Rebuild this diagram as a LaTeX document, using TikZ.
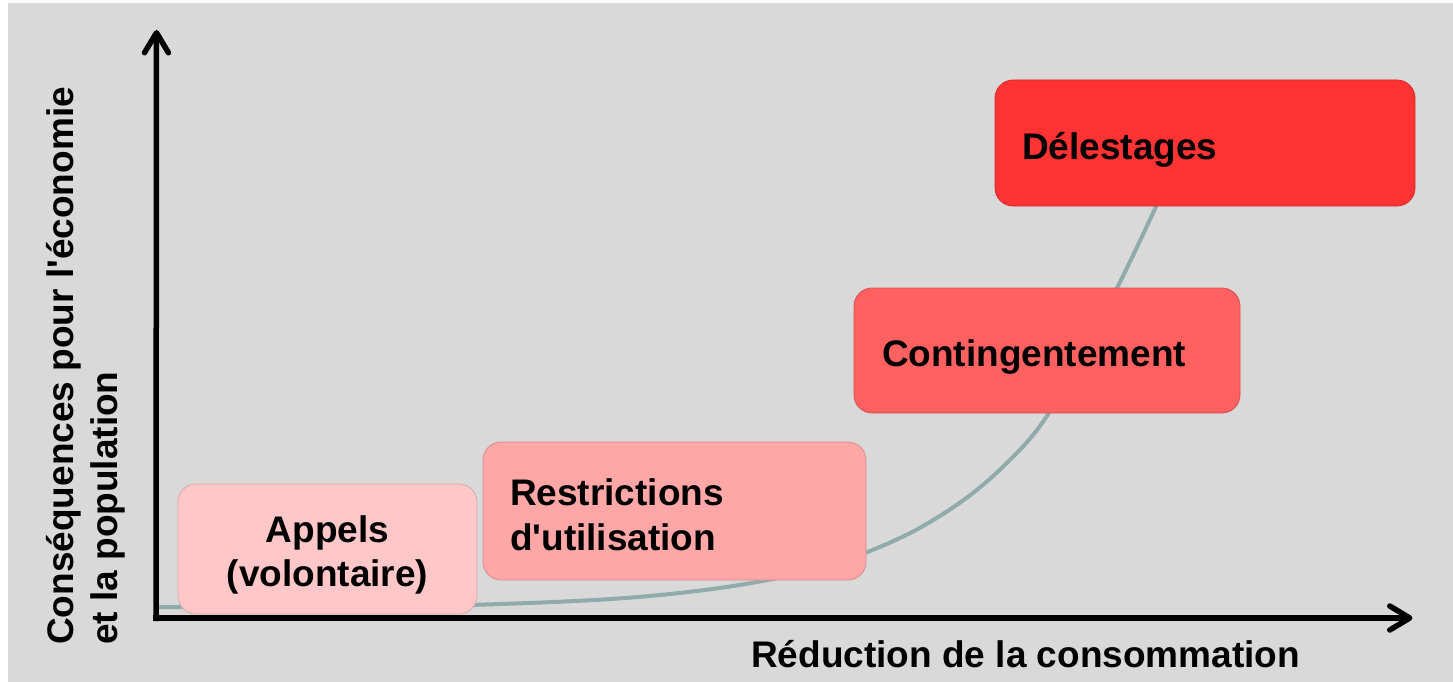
\documentclass[tikz,border=0pt]{standalone}
\usepackage{fontspec}
\setmainfont{Liberation Sans}
\usetikzlibrary{arrows.meta}
\definecolor{bg}{RGB}{217,217,217}
\definecolor{cAppels}{RGB}{255,199,199}
\definecolor{cRestr}{RGB}{255,166,166}
\definecolor{cConting}{RGB}{255,97,97}
\definecolor{cDelest}{RGB}{255,51,51}
\definecolor{cCurve}{RGB}{145,170,170}
\newcommand{\lift}[1]{\rule{0pt}{#1}}
\begin{document}
\begin{tikzpicture}[x=1pt,y=-1pt,
  lbl/.style={font=\fontsize{37}{44.4}\selectfont\bfseries, inner sep=0pt},
  stage/.style={lbl, rounded corners=18pt, line width=0.8pt, inner ysep=0pt, anchor=center},
  axisline/.style={line width=5.5pt, line cap=butt, -{Straight Barb[length=20pt,width=24pt,round]}}]
\useasboundingbox (0,0) rectangle (1453,682);
\fill[bg] (8,3) rectangle (1453,682);

% curve (behind boxes)
\draw[cCurve, line width=4pt] plot[smooth, tension=0.55] coordinates {(157,607) (300,607) (450,605.5) (600,599.7) (700,590.6) (780,577.5) (850,558.4) (910,533.1) (960,502.6) (1000,469.6) (1040,426) (1080,360) (1117,288) (1138,245) (1160,198)};

% axes
\coordinate (o) at (156,621);
\coordinate (ox) at (153,618);
\coordinate (ytip) at (156.5,30);
\coordinate (xtip) at (1412.5,618);
\draw[axisline] (o) -- (ytip);
\draw[axisline] (ox) -- (xtip);

% stages
\node[stage, fill=cAppels, draw=cAppels!85!black, text width=279pt, inner xsep=10pt, minimum height=130pt, align=center] (appels) at (327.5,549) {\lift{39pt}Appels\\(volontaire)};
\node[stage, fill=cRestr, draw=cRestr!85!black, text width=329pt, inner xsep=27pt, minimum height=138pt, align=left] (restr) at (674.5,511) {\lift{34pt}Restrictions\\d\textquotesingle utilisation};
\node[stage, fill=cConting, draw=cConting!85!black, text width=330pt, inner xsep=28pt, minimum height=125pt, align=left] (conting) at (1047,350.5) {\lift{39pt}Contingentement};
\node[stage, fill=cDelest, draw=cDelest!85!black, text width=366pt, inner xsep=27pt, minimum height=126pt, align=left] (delest) at (1205,143) {\lift{41pt}Délestages};

% axis labels
\node[lbl, anchor=base west] (xlab) at (751,667) {Réduction de la consommation};
\node[lbl, rotate=90, anchor=base west] (ylab1) at (73,645) {Conséquences pour l\textquotesingle économie};
\node[lbl, rotate=90, anchor=base west] (ylab2) at (117,645) {et la population};
\end{tikzpicture}
\end{document}
